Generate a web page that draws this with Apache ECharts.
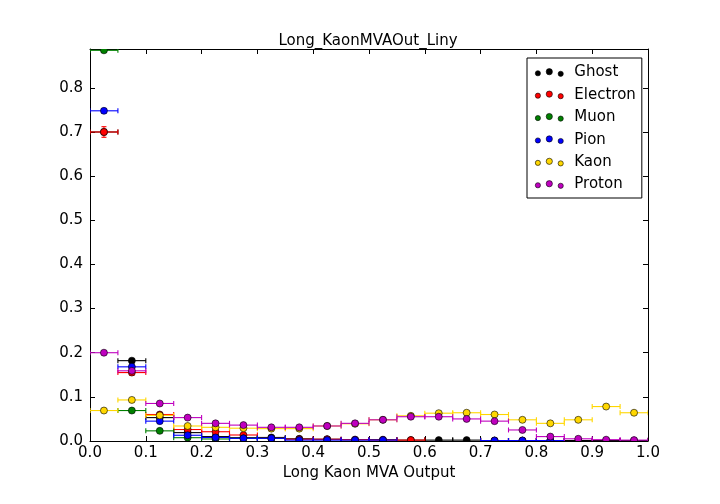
<!DOCTYPE html>
<html>
<head>
<meta charset="utf-8">
<script src="https://cdn.jsdelivr.net/npm/echarts@6/dist/echarts.min.js"></script>
<style>
  html, body { margin: 0; padding: 0; background: #fff; }
  #chart { width: 720px; height: 504px; }
</style>
</head>
<body>
<div id="chart"></div>
<script>
// bin centres of the MVA output histogram (width 0.05)
const binCenters = [0.025, 0.075, 0.125, 0.175, 0.225, 0.275, 0.325, 0.375, 0.425, 0.475,
                    0.525, 0.575, 0.625, 0.675, 0.725, 0.775, 0.825, 0.875, 0.925, 0.975];
const halfWidth = 0.025;

const particles = ['Ghost', 'Electron', 'Muon', 'Pion', 'Kaon', 'Proton'];
const colors = ['#000000', '#ff0000', '#008000', '#0000ff', '#ffd700', '#bf00bf'];

const ghost    = [0.700, 0.182, 0.053, 0.019, 0.010, 0.0075, 0.008, 0.005, 0.004, 0.003,
                  0.003, 0.002, 0.002, 0.002, 0.001, 0.001, 0.001, 0.001, 0.001, 0.001];
const electron = [0.700, 0.155, 0.060, 0.026, 0.021, 0.0136, 0.006, 0.004, 0.004, 0.003,
                  0.002, 0.002, null, null, 0.001, 0.001, 0.001, null, null, null];
const muon     = [0.885, 0.069, 0.023, 0.0075, 0.0046, 0.006, 0.006, null, null, null,
                  null, null, null, null, null, null, null, null, null, null];
const pion     = [0.748, 0.168, 0.045, 0.013, 0.008, 0.006, 0.006, 0.002, 0.002, 0.002,
                  0.002, null, null, null, 0.001, 0.001, 0.001, null, null, null];
const kaon     = [0.069, 0.093, 0.058, 0.034, 0.031, 0.029, 0.028, 0.028, 0.034, 0.039,
                  0.048, 0.057, 0.063, 0.064, 0.060, 0.048, 0.040, 0.048, 0.078, 0.064];
const proton   = [0.200, 0.159, 0.085, 0.053, 0.040, 0.036, 0.031, 0.031, 0.034, 0.040,
                  0.048, 0.055, 0.055, 0.050, 0.045, 0.025, 0.010, 0.005, 0.003, 0.002];

// vertical error bars (only the first bins are large enough to show)
const ghostErr    = [0.006, 0.005, 0.003, 0.002];
const electronErr = [0.012, 0.006, 0.004, 0.002];
const muonErr     = [0.004, 0.003, 0.002, 0.001];
const pionErr     = [0.005, 0.004, 0.002, 0.001];
const kaonErr     = [0.003, 0.003, 0.002, 0.002];
const protonErr   = [0.004, 0.004, 0.003, 0.002];

const values = [ghost, electron, muon, pion, kaon, proton];
const errors = [ghostErr, electronErr, muonErr, pionErr, kaonErr, protonErr];

const yTickLabels = ['0.0', '0.1', '0.2', '0.3', '0.4', '0.5', '0.6', '0.7', '0.8'];

const FONT = 'DejaVu Sans';
const chart = echarts.init(document.getElementById('chart'), null, { renderer: 'canvas' });

function makeRender(color) {
  return function (params, api) {
    const x = api.value(0), y = api.value(1), e = api.value(2);
    const c = api.coord([x, y]);
    const l = api.coord([x - halfWidth, y]);
    const r = api.coord([x + halfWidth, y]);
    const t = api.coord([x, y + e]);
    const b = api.coord([x, y - e]);
    const st = { stroke: color, lineWidth: 1.1 };
    const cap = 2.5;
    const kids = [
      { type: 'line', shape: { x1: l[0], y1: l[1], x2: r[0], y2: r[1] }, style: st },
      { type: 'line', shape: { x1: l[0], y1: l[1] - cap, x2: l[0], y2: l[1] + cap }, style: st },
      { type: 'line', shape: { x1: r[0], y1: r[1] - cap, x2: r[0], y2: r[1] + cap }, style: st }
    ];
    if (e > 0) {
      kids.push(
        { type: 'line', shape: { x1: t[0], y1: t[1], x2: b[0], y2: b[1] }, style: st },
        { type: 'line', shape: { x1: t[0] - cap, y1: t[1], x2: t[0] + cap, y2: t[1] }, style: st },
        { type: 'line', shape: { x1: b[0] - cap, y1: b[1], x2: b[0] + cap, y2: b[1] }, style: st }
      );
    }
    kids.push({ type: 'circle', shape: { cx: c[0], cy: c[1], r: 3.5 },
                style: { fill: color, stroke: '#000', lineWidth: 0.6 } });
    return { type: 'group', children: kids };
  };
}

const series = particles.map((name, k) => ({
  name: name,
  type: 'custom',
  xAxisIndex: 0,
  yAxisIndex: 0,
  clip: true,
  itemStyle: { color: colors[k] },
  renderItem: makeRender(colors[k]),
  data: binCenters
    .map((xc, i) => values[k][i] == null ? null : [xc, values[k][i], errors[k][i] || 0])
    .filter(d => d)
}));

// three dots like the matplotlib scatter legend
const dotsIcon = 'path://M1,6a2.5,2.5 0 1,0 5,0a2.5,2.5 0 1,0 -5,0z' +
                 'M11.5,4.5a3,3 0 1,0 6,0a3,3 0 1,0 -6,0z' +
                 'M23,6.5a2.5,2.5 0 1,0 5,0a2.5,2.5 0 1,0 -5,0z';

const tickStyle = { show: true, inside: true, length: 5, lineStyle: { color: '#000' } };
const frameLine = { show: true, onZero: false, lineStyle: { color: '#000', width: 1 } };

chart.setOption({
  animation: false,
  backgroundColor: '#fff',
  textStyle: { fontFamily: FONT },
  title: {
    text: 'Long_KaonMVAOut_Liny',
    left: 363,
    textAlign: 'center',
    top: 29,
    textStyle: { fontFamily: FONT, fontSize: 15, fontWeight: 'normal', color: '#000' }
  },
  legend: {
    orient: 'vertical',
    left: 527,
    top: 58,
    padding: [7, 6, 6, 8],
    itemGap: 7.4,
    itemWidth: 28,
    itemHeight: 10,
    selectedMode: false,
    borderColor: '#000',
    borderWidth: 1,
    backgroundColor: '#fff',
    textStyle: { fontFamily: FONT, fontSize: 15, color: '#000', padding: [0, 0, 0, 6] },
    data: particles.map((name, k) => ({
      name: name,
      icon: dotsIcon,
      itemStyle: { color: colors[k], borderColor: '#000', borderWidth: 0.6 }
    }))
  },
  grid: { left: 90, right: 72, top: 49, bottom: 63, containLabel: false },
  xAxis: [
    {
      type: 'value', min: 0, max: 1, interval: 0.1, position: 'bottom',
      name: 'Long Kaon MVA Output', nameLocation: 'middle', nameGap: 24,
      nameTextStyle: { fontFamily: FONT, fontSize: 15, color: '#000' },
      axisLine: frameLine,
      axisTick: tickStyle,
      splitLine: { show: false },
      axisLabel: { fontFamily: FONT, fontSize: 15, color: '#000', margin: 5,
                   formatter: v => v.toFixed(1) }
    },
    {
      type: 'value', min: 0, max: 1, interval: 0.1, position: 'top',
      axisLine: frameLine,
      axisTick: tickStyle, axisLabel: { show: false }, splitLine: { show: false }
    }
  ],
  yAxis: [
    {
      type: 'value', min: 0, max: 0.888, interval: 0.1, position: 'left',
      axisLine: frameLine,
      axisTick: tickStyle,
      splitLine: { show: false },
      axisLabel: { fontFamily: FONT, fontSize: 15, color: '#000', margin: 7,
                   showMaxLabel: false,
                   formatter: v => yTickLabels[Math.round(v * 10)] || '' }
    },
    {
      type: 'value', min: 0, max: 0.888, interval: 0.1, position: 'right',
      axisLine: frameLine,
      axisTick: tickStyle, axisLabel: { show: false }, splitLine: { show: false }
    }
  ],
  series: series
});
</script>
</body>
</html>
